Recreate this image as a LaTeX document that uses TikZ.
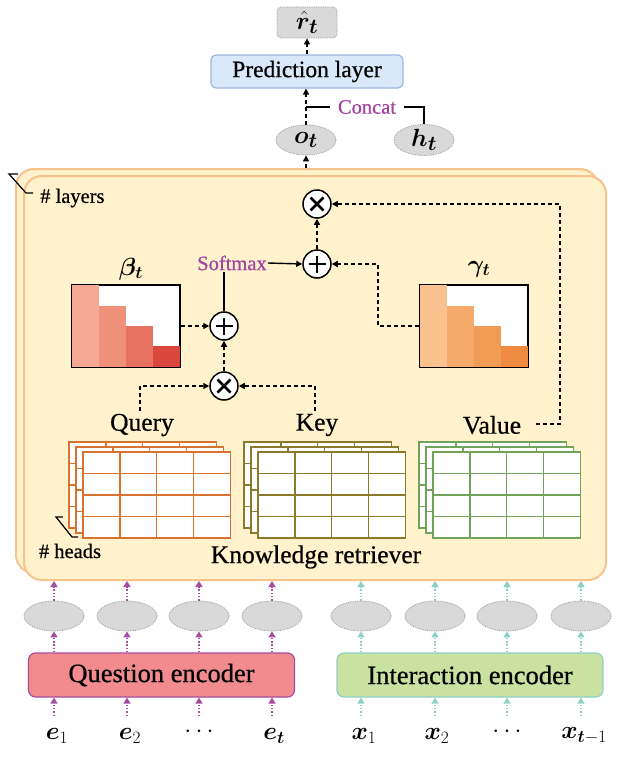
\documentclass[tikz,border=0pt]{standalone}
\usepackage{fontspec}
\setmainfont{Liberation Serif}[FakeBold=0.6]
\usepackage{bm}
\usetikzlibrary{arrows.meta,shapes.geometric,calc}
\definecolor{krfill}{HTML}{FFF2CC}
\definecolor{krline}{HTML}{F8C28C}
\definecolor{predfill}{HTML}{DAE8FC}
\definecolor{predline}{HTML}{9DB7DD}
\definecolor{lgray}{HTML}{D9D9D9}
\definecolor{dgray}{HTML}{9A9A9A}
\definecolor{qfill}{HTML}{F28B8D}
\definecolor{qline}{HTML}{A64D9F}
\definecolor{ifill}{HTML}{C9E2A2}
\definecolor{iline}{HTML}{8FD0C6}
\definecolor{ptext}{HTML}{A3449E}
\definecolor{qgrid}{HTML}{D9722E}
\definecolor{kgrid}{HTML}{8C7A2A}
\definecolor{vgrid}{HTML}{72A35B}
\definecolor{bA}{HTML}{F5A994}
\definecolor{bB}{HTML}{EE907A}
\definecolor{bC}{HTML}{E77262}
\definecolor{bD}{HTML}{D8463C}
\definecolor{gA}{HTML}{F9C28E}
\definecolor{gB}{HTML}{F5AA6B}
\definecolor{gC}{HTML}{F29B55}
\definecolor{gD}{HTML}{EE8B40}
\newcommand\kvgrid[3]{%
  \draw[#3, fill=white, line width=1.3pt] (#1,#2) rectangle ++(147.5,86);
  \foreach \i in {1,2,3} {
    \draw[#3, line width=1.3pt] (#1+\i*36.875,#2) -- ++(0,86);
    \draw[#3, line width=1.3pt] (#1,#2+\i*21.5) -- ++(147.5,0);
  }}
\begin{document}
\begin{tikzpicture}[x=1pt,y=-1pt,
  every node/.style={inner sep=2pt},
  tip/.style={-{Triangle[length=6pt,width=6pt]}},
  dasharrow/.style={tip, line width=1.4pt, dash pattern=on 4pt off 3pt},
  solidarrow/.style={tip, line width=1.4pt},
  qarrow/.style={-{Triangle[length=6pt,width=7pt]}, draw=qline, line width=1.3pt, dash pattern=on 1.5pt off 1.8pt},
  iarrow/.style={-{Triangle[length=6pt,width=7pt]}, draw=iline, line width=1.3pt, dash pattern=on 1.5pt off 1.8pt},
  gell/.style={ellipse, fill=lgray, draw=dgray, densely dotted, line width=0.8pt, minimum width=60pt, minimum height=30pt, inner sep=0pt},
  bigtext/.style={font=\fontsize{25.5}{29}\selectfont},
  midtext/.style={font=\fontsize{23.5}{27}\selectfont},
  smalltext/.style={font=\fontsize{20.5}{24}\selectfont},
  topmath/.style={font=\fontsize{29}{32}\selectfont},
  matmath/.style={font=\fontsize{26}{30}\selectfont},
  botmath/.style={font=\fontsize{26}{30}\selectfont, inner sep=0pt},
  purpletext/.style={smalltext, text=ptext},
  krbox/.style={rectangle, rounded corners=18pt, fill=krfill, draw=krline, line width=2pt, minimum width=582pt, minimum height=404pt},
  matbox/.style={rectangle, draw=black, line width=1.3pt, minimum width=108pt, minimum height=82pt, inner sep=0pt},
  opbase/.style={circle, draw=black, fill=white, line width=1.5pt, minimum size=28pt, inner sep=0pt},
  opp/.style={opbase, path picture={
     \draw[line width=2.6pt] ([xshift=-8.5pt]path picture bounding box.center) -- ([xshift=8.5pt]path picture bounding box.center);
     \draw[line width=2.6pt] ([yshift=-8.5pt]path picture bounding box.center) -- ([yshift=8.5pt]path picture bounding box.center);}},
  opx/.style={opbase, path picture={
     \draw[line width=2.6pt] ([shift={(-6.5pt,-6.5pt)}]path picture bounding box.center) -- ([shift={(6.5pt,6.5pt)}]path picture bounding box.center);
     \draw[line width=2.6pt] ([shift={(-6.5pt,6.5pt)}]path picture bounding box.center) -- ([shift={(6.5pt,-6.5pt)}]path picture bounding box.center);}},
  encbox/.style={rectangle, rounded corners=7pt, line width=1.2pt, minimum width=266pt, minimum height=44pt, font=\fontsize{26.5}{30}\selectfont}
]
\useasboundingbox (0,0) rectangle (620,760);

% ---------- top part ----------
\node[rectangle, rounded corners=4pt, fill=lgray, draw=dgray, densely dotted, line width=0.8pt,
      minimum width=60pt, minimum height=31pt, topmath, inner sep=0pt] (rhat) at (307,22.5) {$\hat{\bm r}_{\bm t}$};
\node[rectangle, rounded corners=5pt, fill=predfill, draw=predline, line width=1.2pt,
      minimum width=192pt, minimum height=33pt, midtext] (pred) at (307,71.5) {Prediction layer};
\node[gell, topmath] (ot) at (306,140) {$\bm o_{\bm t}$};
\node[gell, topmath] (ht) at (424,140) {$\bm h_{\bm t}$};
\node[purpletext, inner xsep=8pt] (concat) at (367,107) {Concat};

% ---------- knowledge retriever ----------
\node[krbox] (krback) at (307,371) {};
\node[krbox] (krfront) at (315,378) {};
\node[smalltext, anchor=west] (layers) at (38,198) {\# layers};
\draw[line width=1.2pt] (18,174) -- (9,174) -- (26,193) -- (33,193);

\node[opx] (x1) at (317,204) {};
\node[opp] (p1) at (317,264) {};
\node[opp] (p2) at (224,326) {};
\node[opx] (x2) at (224,386) {};
\node[purpletext, inner sep=1pt] (softmax) at (232,263) {Softmax};

% beta matrix
\node[matmath] (betal) at (131,269) {$\bm\beta_{\bm t}$};
\node[matbox, fill=white] (betam) at (126,326) {};
\fill[bA] (72,285) rectangle (99,367);
\fill[bB] (99,306) rectangle (126,367);
\fill[bC] (126,326) rectangle (153,367);
\fill[bD] (153,346) rectangle (180,367);
\draw[line width=1.3pt] (betam.north west) rectangle (betam.south east);

% gamma matrix
\node[matmath] (gammal) at (479,269) {$\bm\gamma_{\bm t}$};
\node[matbox, fill=white] (gammam) at (474,326) {};
\fill[gA] (420,285) rectangle (447,367);
\fill[gB] (447,306) rectangle (474,367);
\fill[gC] (474,326) rectangle (501,367);
\fill[gD] (501,346) rectangle (528,367);
\draw[line width=1.3pt] (gammam.north west) rectangle (gammam.south east);

% labels Q K V
\node[bigtext] (query) at (142,425) {Query};
\node[bigtext] (key) at (317,425) {Key};
\node[bigtext] (value) at (492,425) {Value};

% grids
\kvgrid{69}{442}{qgrid}
\kvgrid{76}{447}{qgrid}
\kvgrid{83}{452}{qgrid}
\kvgrid{244}{442}{kgrid}
\kvgrid{251}{447}{kgrid}
\kvgrid{258}{452}{kgrid}
\kvgrid{419}{442}{vgrid}
\kvgrid{426}{447}{vgrid}
\kvgrid{433}{452}{vgrid}

\node[smalltext] (heads) at (70,551) {\# heads};
\draw[line width=1.2pt] (63,517) -- (56,517) -- (72,537) -- (78,537);
\node[bigtext] (krlabel) at (316,557) {Knowledge retriever};

% ---------- connectors inside ----------
\coordinate (qtop) at (140,411);
\coordinate (ktop) at (315,411);
\coordinate (vend) at (536,424);
\coordinate (vbend) at (560,424);
\coordinate (gbend) at (378,0);
\draw[dasharrow] (qtop) |- (x2.west);
\draw[dasharrow] (ktop) |- (x2.east);
\draw[dasharrow] (x2) -- (p2);
\draw[dasharrow] (betam.east) -- (p2.west);
\draw[line width=1.4pt] (p2.north) -- (p2.north |- softmax.south);
\draw[solidarrow] (softmax.east) -- (p1.west);
\draw[dasharrow] (gammam.west) -| (gbend |- p1.east) -- (p1.east);
\draw[dasharrow] (p1) -- (x1);
\draw[dasharrow] (vend) -- (vbend) |- (x1.east);

% ---------- connectors top ----------
\draw[dasharrow] (ot |- krback.north) -- (ot.south);
\draw[dasharrow] (ot.north) -- (ot.north |- pred.south);
\draw[dasharrow] (rhat |- pred.north) -- (rhat.south);
\draw[line width=1.4pt] (concat.west) -- (concat.west -| ot);
\draw[line width=1.4pt] (concat.east) -- (concat.east -| ht) -- (ht.north);

% ---------- bottom ----------
\node[gell] (q1) at (54,616) {};
\node[gell] (q2) at (127,616) {};
\node[gell] (q3) at (199,616) {};
\node[gell] (q4) at (272,616) {};
\node[gell] (i1) at (361,616) {};
\node[gell] (i2) at (435,616) {};
\node[gell] (i3) at (507,616) {};
\node[gell] (i4) at (581,616) {};

\node[encbox, fill=qfill, draw=qline] (qenc) at (161.5,675) {Question encoder};
\node[encbox, fill=ifill, draw=iline] (ienc) at (470,675) {Interaction encoder};

\node[botmath] (le1) at (57,736) {$\bm e_1$};
\node[botmath] (le2) at (130,736) {$\bm e_2$};
\node[botmath] (le3) at (199,732) {$\cdots$};
\node[botmath] (le4) at (274,736) {$\bm e_{\bm t}$};
\node[botmath] (lx1) at (364,736) {$\bm x_1$};
\node[botmath] (lx2) at (437,736) {$\bm x_2$};
\node[botmath] (lx3) at (507,732) {$\cdots$};
\node[botmath] (lx4) at (584,736) {$\bm x_{\bm t-1}$};

\foreach \e/\l in {q1/le1,q2/le2,q3/le3,q4/le4} {
  \draw[qarrow] (\e |- 0,716) -- (\e |- qenc.south);
  \draw[qarrow] (\e |- qenc.north) -- (\e.south);
  \draw[qarrow] (\e.north) -- (\e |- krfront.south);
}
\foreach \e/\l in {i1/lx1,i2/lx2,i3/lx3,i4/lx4} {
  \draw[iarrow] (\e |- 0,716) -- (\e |- ienc.south);
  \draw[iarrow] (\e |- ienc.north) -- (\e.south);
  \draw[iarrow] (\e.north) -- (\e |- krfront.south);
}
\end{tikzpicture}
\end{document}
